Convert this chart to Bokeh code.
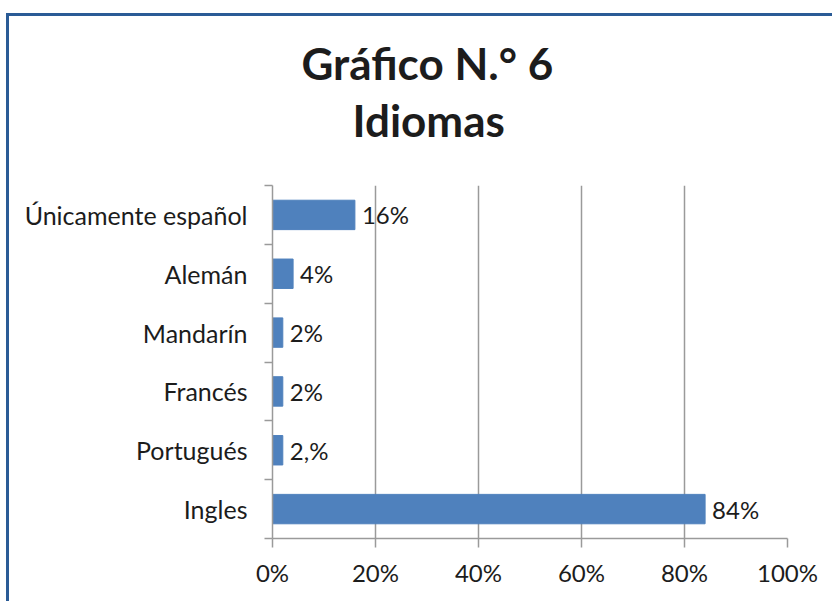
from bokeh.plotting import figure
from bokeh.models import (ColumnDataSource, FixedTicker, NumeralTickFormatter,
                          LabelSet, Range1d, Title)
from bokeh.core.properties import value
from bokeh.embed import file_html
from bokeh.resources import INLINE

# ---- data ----
categories = ["Ingles", "Portugués", "Francés", "Mandarín", "Alemán", "Únicamente español"]
values = [0.84, 0.02, 0.02, 0.02, 0.04, 0.16]
value_labels = ["84%", "2,%", "2%", "2%", "4%", "16%"]
x_ticks = [0, 0.2, 0.4, 0.6, 0.8, 1.0]
title_lines = ["Gráfico N.° 6", "Idiomas"]

FONT = "Lato"
TXT = "#1c1c1c"
GRID = "#9a9a9a"
BAR = "#4F81BD"
FRAME = "#2a5b96"

pos = list(range(len(categories)))
src = ColumnDataSource(dict(y=pos, v=values, lab=value_labels, cat=categories))

W, H = 832, 601
bg = (f"linear-gradient({FRAME},{FRAME}) 6px 13px / 3px 600px no-repeat, "
      f"linear-gradient({FRAME},{FRAME}) 6px 13px / 830px 3px no-repeat, white")
p = figure(width=W, height=H, output_backend="svg", toolbar_location=None,
           x_range=Range1d(0, 1), y_range=Range1d(-0.5, len(categories) - 0.5),
           min_border_left=272, min_border_right=45, min_border_top=185,
           min_border_bottom=63, styles={"background": bg})
p.outline_line_color = None
p.background_fill_color = "white"
p.border_fill_alpha = 0

p.hbar(y="y", right="v", left=0, height=0.5, source=src,
       fill_color=BAR, line_color=BAR)

# y axis: labels at centres, ticks at boundaries
p.yaxis.ticker = FixedTicker(ticks=pos, minor_ticks=[i - 0.5 for i in range(len(categories) + 1)])
p.yaxis.major_label_overrides = {i: c for i, c in zip(pos, categories)}
p.yaxis.major_tick_out = 0
p.yaxis.major_tick_in = 0
p.yaxis.minor_tick_out = 8
p.yaxis.minor_tick_in = 0
p.yaxis.minor_tick_line_color = GRID
p.yaxis.minor_tick_line_width = 1.5
p.yaxis.axis_line_color = GRID
p.yaxis.axis_line_width = 1.5
p.yaxis.major_label_standoff = 17
p.yaxis.major_label_text_font = FONT
p.yaxis.major_label_text_font_size = "25px"
p.yaxis.major_label_text_color = TXT

# x axis
p.xaxis.ticker = FixedTicker(ticks=x_ticks)
p.xaxis.formatter = NumeralTickFormatter(format="0%")
p.xaxis.major_tick_out = 9
p.xaxis.major_tick_in = 0
p.xaxis.major_tick_line_color = GRID
p.xaxis.major_tick_line_width = 1.5
p.xaxis.minor_tick_line_color = None
p.xaxis.axis_line_color = GRID
p.xaxis.axis_line_width = 1.5
p.xaxis.major_label_standoff = 10
p.xaxis.major_label_text_font = FONT
p.xaxis.major_label_text_font_size = "24px"
p.xaxis.major_label_text_color = TXT

p.ygrid.grid_line_color = None
p.xgrid.grid_line_color = GRID
p.xgrid.grid_line_width = 1.5

labels = LabelSet(x="v", y="y", text="lab", source=src, x_offset=7,
                  text_baseline="middle", text_align="left",
                  text_font=value(FONT), text_font_size="24px", text_color=TXT)
p.add_layout(labels)

# titles: first added sits nearest the frame
p.add_layout(Title(text=title_lines[1], align="left", offset=80, standoff=80,
                   text_font=FONT, text_font_size="44px", text_font_style="bold",
                   text_color=TXT), "above")
p.add_layout(Title(text=title_lines[0], align="left", offset=29, standoff=-74,
                   text_font=FONT, text_font_size="44px", text_font_style="bold",
                   text_color=TXT), "above")

open("out.html", "w").write(file_html(p, INLINE))
